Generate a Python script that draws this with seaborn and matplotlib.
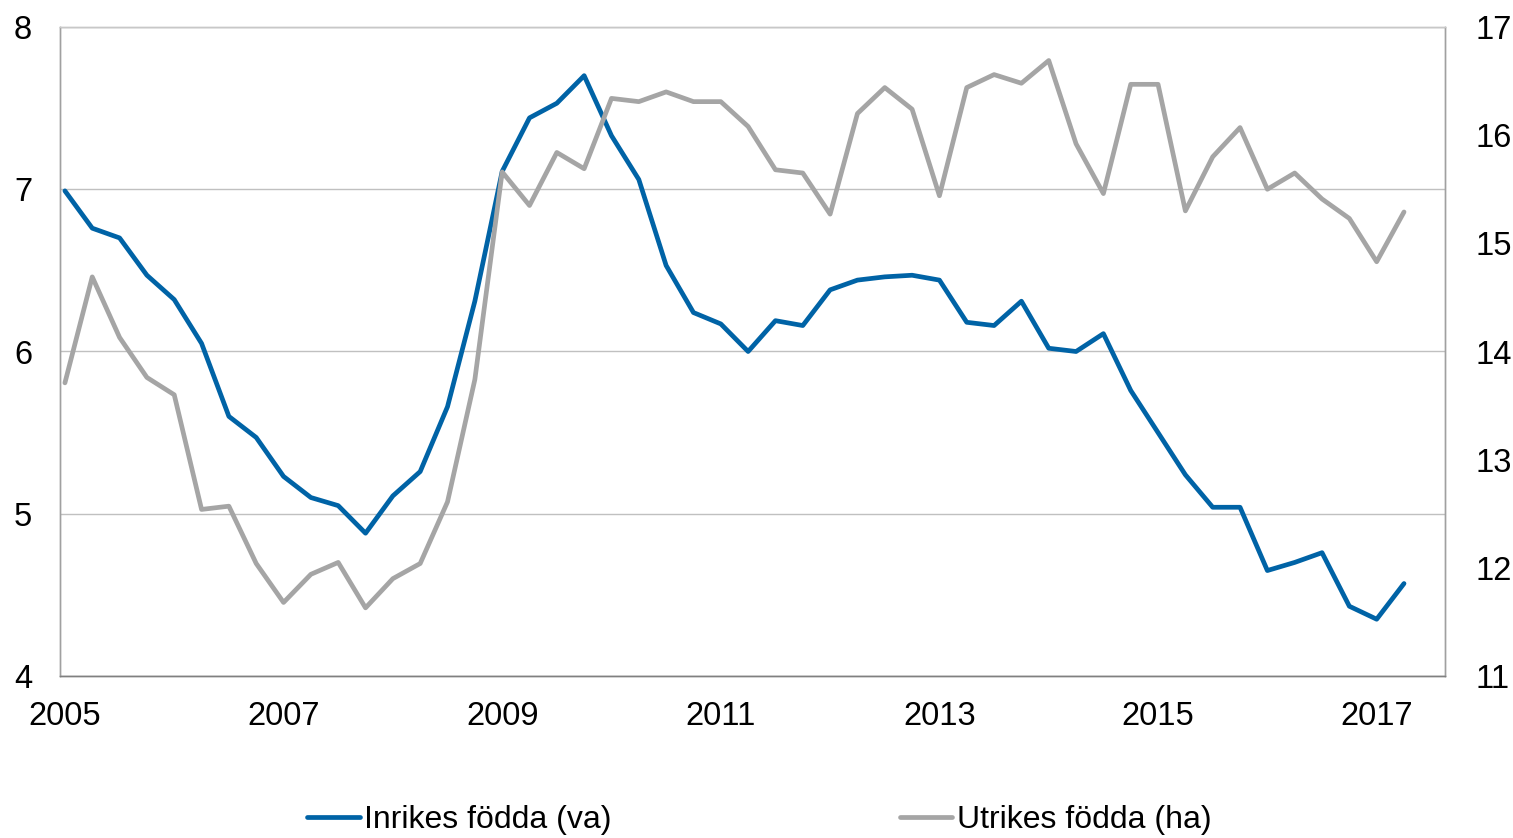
import matplotlib
matplotlib.use("Agg")
import matplotlib.pyplot as plt
import seaborn as sns
import pandas as pd
import numpy as np
from matplotlib.lines import Line2D

# Quarterly data 2005Q1 - 2017Q2
quarters = [f"{y}Q{q}" for y in range(2005, 2018) for q in range(1, 5)][:50]
inrikes = [6.99, 6.76, 6.70, 6.47, 6.32, 6.05, 5.60, 5.47, 5.23, 5.10,
           5.05, 4.88, 5.11, 5.26, 5.66, 6.31, 7.11, 7.44, 7.53, 7.70,
           7.33, 7.06, 6.53, 6.24, 6.17, 6.00, 6.19, 6.16, 6.38, 6.44,
           6.46, 6.47, 6.44, 6.18, 6.16, 6.31, 6.02, 6.00, 6.11, 5.76,
           5.50, 5.24, 5.04, 5.04, 4.65, 4.70, 4.76, 4.43, 4.35, 4.57]
utrikes = [13.71, 14.69, 14.13, 13.76, 13.60, 12.54, 12.57, 12.04, 11.68, 11.94,
           12.05, 11.63, 11.90, 12.04, 12.61, 13.74, 15.66, 15.35, 15.84, 15.69,
           16.34, 16.31, 16.40, 16.31, 16.31, 16.08, 15.68, 15.65, 15.27, 16.20,
           16.44, 16.24, 15.44, 16.44, 16.56, 16.48, 16.69, 15.92, 15.46, 16.47,
           16.47, 15.30, 15.80, 16.07, 15.50, 15.65, 15.41, 15.23, 14.83, 15.29]
year_labels = ["2005", "2007", "2009", "2011", "2013", "2015", "2017"]
left_ticks = [4, 5, 6, 7, 8]
right_ticks = [11, 12, 13, 14, 15, 16, 17]
series_names = ["Inrikes födda (va)", "Utrikes födda (ha)"]

df = pd.DataFrame({"idx": np.arange(len(quarters)), "quarter": quarters,
                   "inrikes": inrikes, "utrikes": utrikes})

sns.set_style("white")
plt.rcParams["font.family"] = ["Liberation Sans", "DejaVu Sans"]

blue = "#0063A6"
gray = "#A5A5A5"
lw = 3.4

fig = plt.figure(figsize=(15.13, 8.38), dpi=100)
ax = fig.add_axes([60/1513, 1-676/838, (1445-60)/1513, 649/838])
ax2 = ax.twinx()

sns.lineplot(data=df, x="idx", y="inrikes", ax=ax, color=blue, linewidth=lw)
sns.lineplot(data=df, x="idx", y="utrikes", ax=ax2, color=gray, linewidth=lw)

ax.set_xlim(-0.18, 50.5)
ax.set_ylim(4, 8)
ax2.set_ylim(11, 17)
ax.set_yticks(left_ticks)
ax2.set_yticks(right_ticks)
ax.set_xticks(np.arange(0, 49, 8))
ax.set_xticklabels(year_labels)
for a in (ax, ax2):
    a.set_xlabel("")
    a.set_ylabel("")
    a.tick_params(length=0, labelsize=23.5, labelcolor="black")
ax.tick_params(axis="y", pad=20)
ax2.tick_params(axis="y", pad=22)
ax.tick_params(axis="x", pad=18)

ax.yaxis.grid(True, color="#C0C0C0", linewidth=1.0)
ax.set_axisbelow(True)
for a in (ax, ax2):
    for s in a.spines.values():
        s.set_color("#A0A0A0")
        s.set_linewidth(1.0)
    a.spines["top"].set_color("#C8C8C8")
    a.spines["bottom"].set_color("#808080")

handles = [Line2D([], [], color=blue, linewidth=lw),
           Line2D([], [], color=gray, linewidth=lw)]
leg = fig.legend(handles, series_names, loc="center left",
                 bbox_to_anchor=(307/1513, 1-820/838), ncol=2, frameon=False,
                 fontsize=23, handlelength=1.65, handletextpad=0.15,
                 columnspacing=9.0, borderpad=0, borderaxespad=0)
for t in leg.get_texts():
    t.set_color("black")

fig.savefig("out.png", dpi=100)
